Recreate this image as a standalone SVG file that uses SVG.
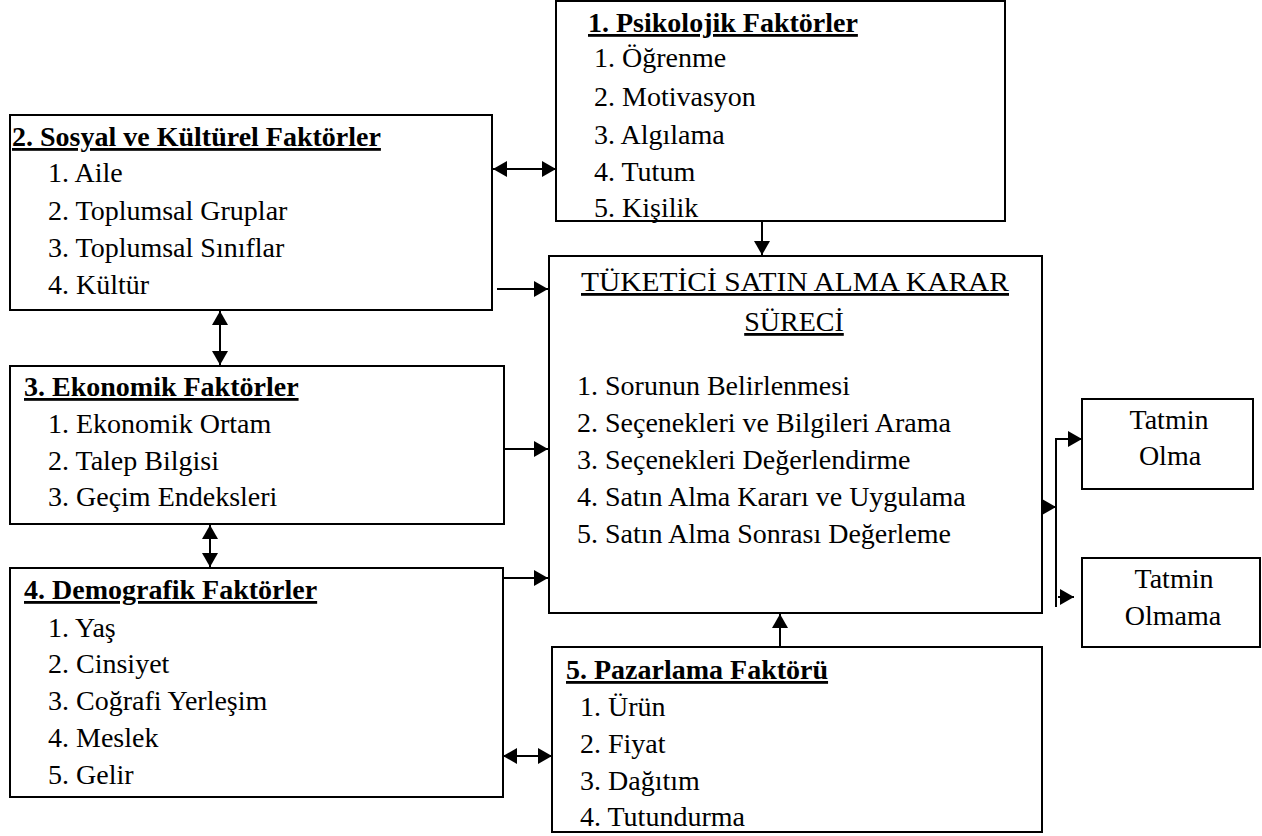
<svg xmlns="http://www.w3.org/2000/svg" width="1262" height="836" viewBox="0 0 1262 836" font-family="'Liberation Serif', 'Times New Roman', serif">
<defs>
<style>
.box{fill:#fff;stroke:#000;stroke-width:2}
text{font-family:'Liberation Serif','Times New Roman',serif;font-size:28px;fill:#000}
.h{font-weight:bold;text-decoration:underline}
.u{text-decoration:underline}
.c{text-anchor:middle}
.con path{fill:none;stroke:#000;stroke-width:2}
</style>
<marker id="ah" viewBox="0 0 14 16" refX="14" refY="8" markerWidth="14" markerHeight="16" markerUnits="userSpaceOnUse" orient="auto-start-reverse">
<path d="M0,0 L14,8 L0,16 z" fill="#000"/>
</marker>
</defs>
<rect width="1262" height="836" fill="#fff"/>

<g id="psikolojik">
<rect class="box" x="556" y="1" width="449" height="220"/>
<text class="h" x="588" y="32">1. Psikolojik Faktörler</text>
<text x="594" y="67">1. Öğrenme</text>
<text x="594" y="106">2. Motivasyon</text>
<text x="594" y="144">3. Algılama</text>
<text x="594" y="181">4. Tutum</text>
<text x="594" y="217">5. Kişilik</text>
</g>

<g id="sosyal">
<rect class="box" x="10" y="115" width="482" height="195"/>
<text class="h" x="12" y="146">2. Sosyal ve Kültürel Faktörler</text>
<text x="48" y="182">1. Aile</text>
<text x="48" y="220">2. Toplumsal Gruplar</text>
<text x="48" y="257">3. Toplumsal Sınıflar</text>
<text x="48" y="294">4. Kültür</text>
</g>

<g id="tuketici">
<rect class="box" x="549" y="256" width="493" height="357"/>
<text class="u c" x="795" y="291" textLength="428" lengthAdjust="spacingAndGlyphs">TÜKETİCİ SATIN ALMA KARAR</text>
<text class="u c" x="794" y="331">SÜRECİ</text>
<text x="577" y="395">1. Sorunun Belirlenmesi</text>
<text x="577" y="432">2. Seçenekleri ve Bilgileri Arama</text>
<text x="577" y="469">3. Seçenekleri Değerlendirme</text>
<text x="577" y="506">4. Satın Alma Kararı ve Uygulama</text>
<text x="577" y="543">5. Satın Alma Sonrası Değerleme</text>
</g>

<g id="ekonomik">
<rect class="box" x="10" y="366" width="494" height="158"/>
<text class="h" x="24" y="396">3. Ekonomik Faktörler</text>
<text x="48" y="433">1. Ekonomik Ortam</text>
<text x="48" y="470">2. Talep Bilgisi</text>
<text x="48" y="506">3. Geçim Endeksleri</text>
</g>

<g id="demografik">
<rect class="box" x="10" y="568" width="493" height="229"/>
<text class="h" x="24" y="599">4. Demografik Faktörler</text>
<text x="48" y="637">1. Yaş</text>
<text x="48" y="673">2. Cinsiyet</text>
<text x="48" y="710">3. Coğrafi Yerleşim</text>
<text x="48" y="747">4. Meslek</text>
<text x="48" y="784">5. Gelir</text>
</g>

<g id="pazarlama">
<rect class="box" x="552" y="647" width="490" height="185"/>
<text class="h" x="566" y="679">5. Pazarlama Faktörü</text>
<text x="580" y="716">1. Ürün</text>
<text x="580" y="753">2. Fiyat</text>
<text x="580" y="790">3. Dağıtım</text>
<text x="580" y="826">4. Tutundurma</text>
</g>

<g id="tatmin-olma">
<rect class="box" x="1082" y="399" width="171" height="90"/>
<text class="c" x="1169" y="429">Tatmin</text>
<text class="c" x="1170" y="465">Olma</text>
</g>

<g id="tatmin-olmama">
<rect class="box" x="1082" y="558" width="178" height="89"/>
<text class="c" x="1174" y="588">Tatmin</text>
<text class="c" x="1173" y="625">Olmama</text>
</g>

<g id="connectors" class="con">
<path d="M493,169 L556,169" marker-start="url(#ah)" marker-end="url(#ah)"/>
<path d="M497,289 L548,289" marker-end="url(#ah)"/>
<path d="M220,311 L220,365" marker-start="url(#ah)" marker-end="url(#ah)"/>
<path d="M504,449 L548,449" marker-end="url(#ah)"/>
<path d="M210,525 L210,567" marker-start="url(#ah)" marker-end="url(#ah)"/>
<path d="M503,578 L548,578" marker-end="url(#ah)"/>
<path d="M503,756 L552,756" marker-start="url(#ah)" marker-end="url(#ah)"/>
<path d="M780,647 L780,614" marker-end="url(#ah)"/>
<path d="M762,221 L762,255" marker-end="url(#ah)"/>
<path d="M1042,507 L1056,507" marker-end="url(#ah)"/>
<path d="M1056,607 L1056,439 L1082,439" marker-end="url(#ah)"/>
<path d="M1058,597 L1074,597" marker-end="url(#ah)"/>
</g>
</svg>
